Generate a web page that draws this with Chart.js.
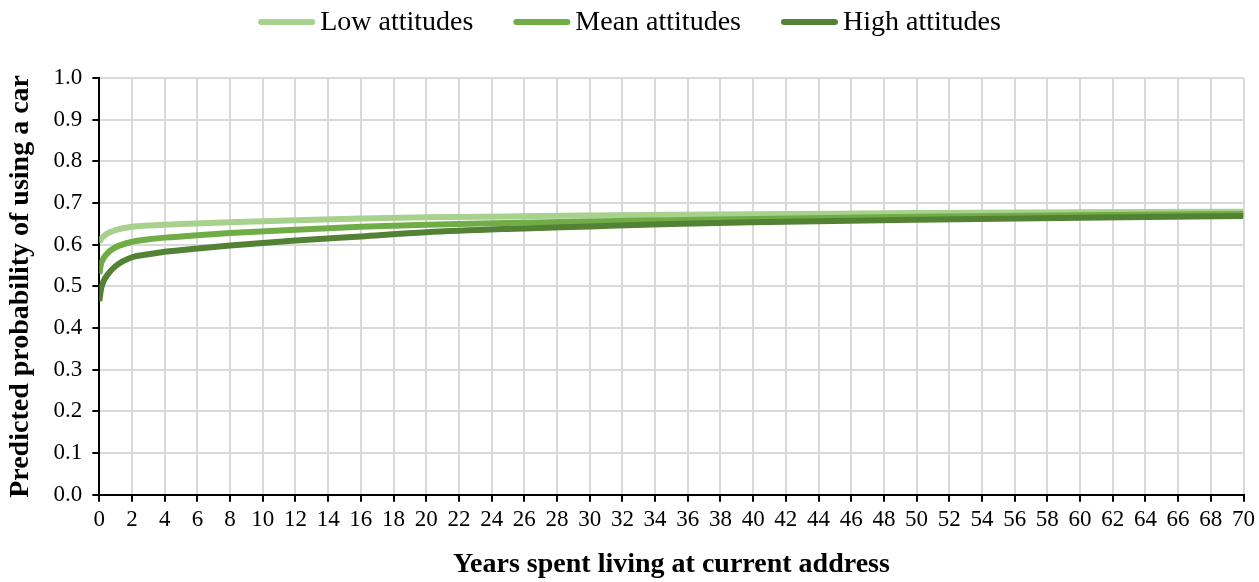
<!DOCTYPE html>
<html lang="en">
<head>
    <meta charset="UTF-8">
    <title>Predicted probability of using a car</title>
    <script src="https://cdn.jsdelivr.net/npm/chart.js"></script>
    <style>
        body { margin: 0; background: #fff; }
        canvas { display: block; }
    </style>
</head>
<body>
    <canvas id="carChart" width="1259" height="582"></canvas>
    <script>
        // years at current address (x values)
        const years = [0, 0.1, 0.25, 0.5, 1, 2, 3, 4, 6, 8, 12, 16, 20, 25, 30, 35, 40, 50, 60, 70];

        // predicted probability for each attitude level
        const lowAttitudes  = [0.605, 0.614, 0.620, 0.627, 0.635, 0.643, 0.646, 0.648, 0.651, 0.654, 0.659, 0.663, 0.666, 0.668, 0.670, 0.672, 0.673, 0.676, 0.678, 0.679];
        const meanAttitudes = [0.530, 0.553, 0.567, 0.580, 0.594, 0.607, 0.613, 0.617, 0.623, 0.628, 0.636, 0.643, 0.648, 0.652, 0.656, 0.659, 0.662, 0.667, 0.671, 0.674];
        const highAttitudes = [0.465, 0.493, 0.512, 0.528, 0.549, 0.570, 0.577, 0.583, 0.591, 0.598, 0.610, 0.620, 0.630, 0.638, 0.644, 0.650, 0.654, 0.660, 0.665, 0.669];

        const seriesNames = ['Low attitudes', 'Mean attitudes', 'High attitudes'];
        const seriesColors = ['#A9D18E', '#70AD47', '#548235'];

        const serif = "'Liberation Serif', 'Times New Roman', serif";

        function toPoints(values) {
            return years.map((x, i) => ({ x: x, y: values[i] }));
        }

        const allSeries = [lowAttitudes, meanAttitudes, highAttitudes];
        const datasets = allSeries.map((values, i) => ({
            label: seriesNames[i],
            data: toPoints(values),
            borderColor: seriesColors[i],
            backgroundColor: seriesColors[i],
            borderWidth: 6,
            pointRadius: 0,
            cubicInterpolationMode: 'monotone',
            order: 2 - i   // high attitudes drawn on top
        }));

        // legend drawn by hand so the spacing matches the Excel one
        const topLegend = {
            id: 'topLegend',
            afterDraw(chart) {
                const c = chart.ctx;
                const lineW = 57, gap = 5, itemGap = 40, y = 22;
                c.save();
                c.font = '28px ' + serif;
                c.textBaseline = 'middle';
                const widths = chart.data.datasets.map(d => c.measureText(d.label).width);
                let total = 0;
                widths.forEach((w, i) => { total += lineW + gap + w + (i ? itemGap : 0); });
                let x = (chart.width - total) / 2;
                chart.data.datasets.forEach((d, i) => {
                    c.strokeStyle = d.borderColor;
                    c.lineWidth = 6;
                    c.lineCap = 'round';
                    c.beginPath();
                    c.moveTo(x + 3, y);
                    c.lineTo(x + lineW - 3, y);
                    c.stroke();
                    c.fillStyle = '#000';
                    c.fillText(d.label, x + lineW + gap, y + 1);
                    x += lineW + gap + widths[i] + itemGap;
                });
                c.restore();
            }
        };

        const ctx = document.getElementById('carChart').getContext('2d');
        new Chart(ctx, {
            type: 'line',
            data: { datasets: datasets },
            plugins: [topLegend],
            options: {
                responsive: false,
                animation: false,
                layout: { padding: { top: 78, right: 4, left: 2, bottom: 0 } },
                plugins: {
                    tooltip: { enabled: false },
                    legend: { display: false }
                },
                scales: {
                    x: {
                        type: 'linear',
                        min: 0,
                        max: 70,
                        ticks: {
                            stepSize: 2,
                            color: '#000',
                            padding: 4,
                            maxRotation: 0,
                            autoSkip: false,
                            font: { family: serif, size: 23 }
                        },
                        grid: {
                            color: '#D9D9D9',
                            lineWidth: 2,
                            tickColor: '#000',
                            tickLength: 7
                        },
                        border: { color: '#000', width: 2 },
                        title: {
                            display: true,
                            text: 'Years spent living at current address',
                            color: '#000',
                            font: { family: serif, size: 28, weight: 'bold' },
                            padding: { top: 11, bottom: 0 }
                        }
                    },
                    y: {
                        min: 0,
                        max: 1,
                        ticks: {
                            stepSize: 0.1,
                            color: '#000',
                            padding: 10,
                            font: { family: serif, size: 23 },
                            callback: v => v.toFixed(1)
                        },
                        grid: {
                            color: '#D9D9D9',
                            lineWidth: 2,
                            tickColor: '#000',
                            tickLength: 7
                        },
                        border: { color: '#000', width: 2 },
                        title: {
                            display: true,
                            text: 'Predicted probability of using a car',
                            color: '#000',
                            font: { family: serif, size: 28, weight: 'bold' },
                            padding: { top: 2, bottom: 6 }
                        }
                    }
                }
            }
        });
    </script>
</body>
</html>
